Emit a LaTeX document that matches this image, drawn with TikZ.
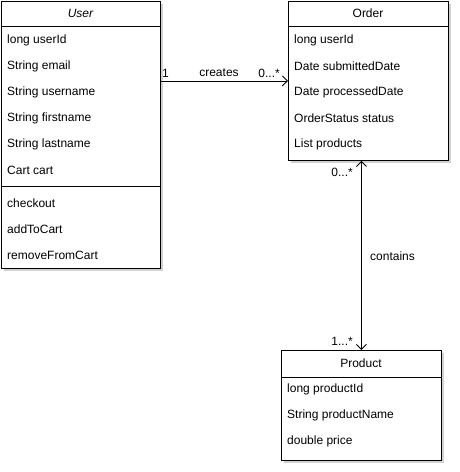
\documentclass[tikz,border=0pt]{standalone}
\usepackage{fontspec}
\setmainfont{Liberation Sans}
\usetikzlibrary{arrows.meta,shadows}
\begin{document}
\begin{tikzpicture}[x=1pt,y=-1pt,
  every node/.style={font=\fontsize{12}{14}\selectfont, inner sep=0pt},
  umlbox/.style={draw, line width=0.9pt, fill=white, anchor=north west, inner sep=0pt,
     drop shadow={shadow xshift=2.5pt, shadow yshift=-2.5pt, opacity=0.18, fill=black}},
  attr/.style={anchor=west},
  title/.style={anchor=center},
  lbl/.style={font=\fontsize{12}{14}\selectfont},
  conn/.style={line width=0.9pt, -{Straight Barb[length=5pt,width=10pt]}},
  conn2/.style={line width=0.9pt, {Straight Barb[length=5pt,width=10pt]}-{Straight Barb[length=5pt,width=10pt]}}
]
\useasboundingbox (0,0) rectangle (460,472);
% User
\node[umlbox, minimum width=159pt, minimum height=267pt] (user) at (1,1) {};
\draw[line width=0.9pt] ([yshift=-25pt]user.north west) -- ([yshift=-25pt]user.north east);
\draw[line width=0.9pt] ([yshift=-185pt]user.north west) -- ([yshift=-185pt]user.north east);
\node[title] (usert) at (80.5,13) {\itshape User};
\node[attr] (u1) at (7,40) {long userId};
\node[attr] (u2) at (7,66) {String email};
\node[attr] (u3) at (7,92) {String username};
\node[attr] (u4) at (7,118) {String firstname};
\node[attr] (u5) at (7,144) {String lastname};
\node[attr] (u6) at (7,170) {Cart cart};
\node[attr] (m1) at (7,203) {checkout};
\node[attr] (m2) at (7,229) {addToCart};
\node[attr] (m3) at (7,255) {removeFromCart};
% Order
\node[umlbox, minimum width=160pt, minimum height=159pt] (order) at (288,1) {};
\draw[line width=0.9pt] ([yshift=-25pt]order.north west) -- ([yshift=-25pt]order.north east);
\node[title] (ordert) at (368,13) {Order};
\node[attr] (o1) at (294,40) {long userId};
\node[attr] (o2) at (294,66) {Date submittedDate};
\node[attr] (o3) at (294,92) {Date processedDate};
\node[attr] (o4) at (294,118) {OrderStatus status};
\node[attr] (o5) at (294,144) {List products};
% Product
\node[umlbox, minimum width=160pt, minimum height=110pt] (product) at (281,350) {};
\draw[line width=0.9pt] ([yshift=-27pt]product.north west) -- ([yshift=-27pt]product.north east);
\node[title] (productt) at (361,363) {Product};
\node[attr] (p1) at (287,389) {long productId};
\node[attr] (p2) at (287,415) {String productName};
\node[attr] (p3) at (287,441) {double price};
% connectors
\coordinate (cstart) at (order.west -| user.east);
\draw[conn] (cstart) -- (order.west);
\node[lbl, anchor=west] (l1) at (162,73) {1};
\node[lbl] (lcreates) at (219,73) {creates};
\node[lbl, anchor=east] (l0a) at (280,73) {0...*};
\coordinate (vtop) at (product.north |- order.south);
\draw[conn2] (vtop) -- (product.north);
\node[lbl, anchor=east] (l0b) at (353,172) {0...*};
\node[lbl, anchor=west] (lcont) at (370,256) {contains};
\node[lbl, anchor=east] (l1b) at (353,341) {1...*};
\end{tikzpicture}
\end{document}
